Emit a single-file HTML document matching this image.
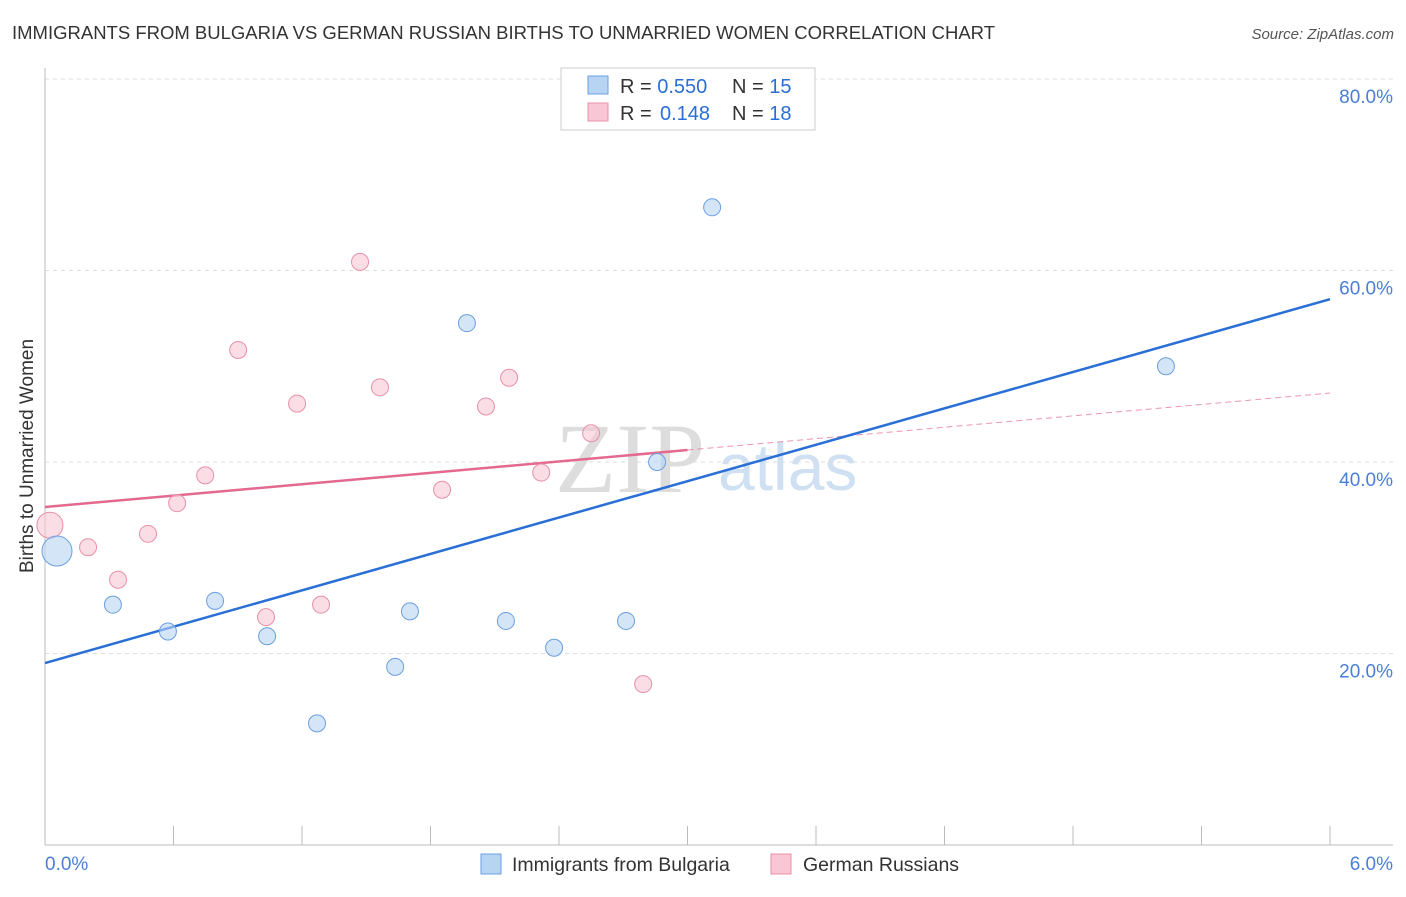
<!DOCTYPE html>
<html><head><meta charset="utf-8"><style>
body{margin:0;background:#fff;font-family:"Liberation Sans",sans-serif;}
</style></head><body>
<svg id="chart" width="1406" height="892" xmlns="http://www.w3.org/2000/svg">
<text x="12" y="39" font-size="18.5" fill="#333">IMMIGRANTS FROM BULGARIA VS GERMAN RUSSIAN BIRTHS TO UNMARRIED WOMEN CORRELATION CHART</text>
<text x="1394" y="39" font-size="15" fill="#555" text-anchor="end" font-style="italic">Source: ZipAtlas.com</text>
<text x="555" y="492" font-size="100" fill="#ddd" font-family="Liberation Serif,serif">ZIP</text>
<text x="718" y="490" font-size="66" fill="#cfe0f3">atlas</text>
<g id="grid"></g><g id="axes"></g><g id="lines"></g><g id="points"></g>
<text x="33" y="456" font-size="19" fill="#333" text-anchor="middle" transform="rotate(-90 33 456)">Births to Unmarried Women</text>
<g>
<rect x="561" y="68" width="254" height="62" fill="#fff" stroke="#ccc"/>
<rect x="588" y="76" width="20" height="18" fill="#b8d4f3" stroke="#6a9fe0"/>
<rect x="588" y="103" width="20" height="18" fill="#f8c6d4" stroke="#e890a8"/>
<text x="620" y="93" font-size="20" fill="#333">R = <tspan fill="#2a6fd6">0.550</tspan><tspan x="732">N = </tspan><tspan fill="#2a6fd6">15</tspan></text>
<text x="620" y="120" font-size="20" fill="#333">R = <tspan fill="#2a6fd6" x="660">0.148</tspan><tspan x="732">N = </tspan><tspan fill="#2a6fd6">18</tspan></text>
</g>
<g>
<rect x="481" y="854" width="20" height="20" fill="#b8d4f3" stroke="#6a9fe0"/>
<text x="512" y="871" font-size="19.5" fill="#333">Immigrants from Bulgaria</text>
<rect x="771" y="854" width="20" height="20" fill="#f8c6d4" stroke="#e890a8"/>
<text x="803" y="871" font-size="19.5" fill="#333">German Russians</text>
</g>
</svg>
<script>
const blueX=[0.056,0.317,0.574,0.794,1.037,1.270,1.635,1.704,1.970,2.152,2.377,2.713,2.858,3.115,5.234];
const blueY=[30.7,25.1,22.3,25.5,21.8,12.7,18.6,24.4,54.5,23.4,20.6,23.4,40.0,66.6,50.0];
const blueR=[15,8.5,8.5,8.5,8.5,8.5,8.5,8.5,8.5,8.5,8.5,8.5,8.5,8.5,8.5];
const pinkX=[0.023,0.201,0.341,0.481,0.617,0.748,0.902,1.032,1.177,1.289,1.471,1.564,1.854,2.059,2.167,2.317,2.550,2.793];
const pinkY=[33.4,31.1,27.7,32.5,35.7,38.6,51.7,23.8,46.1,25.1,60.9,47.8,37.1,45.8,48.8,38.9,43.0,16.8];
const pinkR=[13,8.5,8.5,8.5,8.5,8.5,8.5,8.5,8.5,8.5,8.5,8.5,8.5,8.5,8.5,8.5,8.5,8.5];
const blueLine=[19.0,57.0];
const pinkLine=[35.3,47.2];
const pinkSolidEnd=3.0;
const yTicks=[20,40,60,80];
const xTickLabels=["0.0%","6.0%"];
const NS="http://www.w3.org/2000/svg";
const sx=v=>45+v/6*1285, sy=v=>845-v*9.575;
function mk(t,a,p){const e=document.createElementNS(NS,t);for(const k in a)e.setAttribute(k,a[k]);document.getElementById(p).appendChild(e);return e;}
yTicks.forEach(t=>{
 const l=mk('line',{x1:45,x2:1393,y1:sy(t),y2:sy(t),stroke:'#ddd','stroke-dasharray':'4,4'},'grid');
 
 
 const tx=mk('text',{x:1393,y:sy(t)+24,'font-size':19,fill:'#4a7fd6','text-anchor':'end'},'axes');
 tx.textContent=t.toFixed(1)+'%';
 
 
});
const xa=mk('line',{x1:45,x2:1393,y1:845,y2:845,stroke:'#bbb'},'axes');


const ya=mk('line',{x1:45,x2:45,y1:68,y2:845,stroke:'#bbb'},'axes');


for(let i=1;i<=10;i++){const t=mk('line',{x1:sx(i*0.6),x2:sx(i*0.6),y1:826,y2:845,stroke:'#bbb'},'axes');
 
 }
const x0=mk('text',{x:45,y:870,'font-size':19,fill:'#4a7fd6'},'axes');x0.textContent=xTickLabels[0];


const x1=mk('text',{x:1393,y:870,'font-size':19,fill:'#4a7fd6','text-anchor':'end'},'axes');x1.textContent=xTickLabels[1];


const pinkAt=v=>pinkLine[0]+(pinkLine[1]-pinkLine[0])*v/6;
const pd=mk('line',{x1:sx(pinkSolidEnd),y1:sy(pinkAt(pinkSolidEnd)),x2:sx(6),y2:sy(pinkLine[1]),stroke:'#e4698f','stroke-width':1,'stroke-dasharray':'6,4',opacity:0.7},'lines');


const ps=mk('line',{x1:sx(0),y1:sy(pinkLine[0]),x2:sx(pinkSolidEnd),y2:sy(pinkAt(pinkSolidEnd)),stroke:'#e4698f','stroke-width':2.5},'lines');


const bl=mk('line',{x1:sx(0),y1:sy(blueLine[0]),x2:sx(6),y2:sy(blueLine[1]),stroke:'#2a6fd6','stroke-width':2.5},'lines');


pinkX.forEach((v,i)=>{const c=mk('circle',{cx:sx(v),cy:sy(pinkY[i]),r:pinkR[i],fill:'#f8c6d4','fill-opacity':0.6,stroke:'#e890a8'},'points');
 
 });
blueX.forEach((v,i)=>{const c=mk('circle',{cx:sx(v),cy:sy(blueY[i]),r:blueR[i],fill:'#b8d4f3','fill-opacity':0.6,stroke:'#6a9fe0'},'points');
 
 });
</script>
</body></html>
